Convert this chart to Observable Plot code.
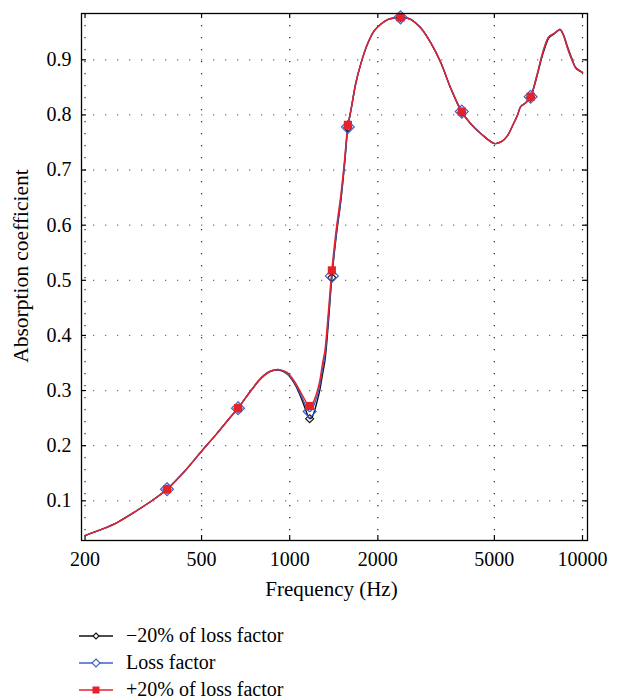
<!DOCTYPE html>
<html>
<head>
<meta charset="utf-8">
<script src="https://cdn.jsdelivr.net/npm/d3@7"></script>
<script src="https://cdn.jsdelivr.net/npm/@observablehq/plot@0.6"></script>
<style>
  body { margin: 0; background: #fff; font-family: "Liberation Serif", serif; }
  #wrap { position: relative; width: 618px; height: 699px; }
  #legend { position: absolute; left: 79px; top: 622px; }
  .row { display: flex; align-items: center; height: 27px; font-size: 20px; color: #000; }
  .row svg { margin-right: 12px; }
</style>
</head>
<body>
<div id="wrap"><div id="chart"></div><div id="legend"></div></div>
<script>
// ---- data ----
const freq = [200, 230, 260, 300, 340, 381, 440, 500, 560, 630, 666, 740, 800, 860, 920, 980, 1040, 1090, 1130, 1150, 1170, 1190, 1215, 1240, 1265, 1295, 1320, 1355, 1393, 1440, 1495, 1540, 1580, 1620, 1680, 1750, 1845, 1945, 2050, 2160, 2280, 2390, 2500, 2600, 2800, 3030, 3280, 3550, 3870, 4150, 4500, 5020, 5300, 5540, 5800, 6000, 6150, 6400, 6650, 6850, 7020, 7200, 7400, 7680, 8000, 8200, 8380, 8600, 8880, 9200, 9480, 9750, 10000];

const plus20 = [0.037, 0.049, 0.062, 0.082, 0.101, 0.121, 0.155, 0.190, 0.220, 0.253, 0.268, 0.301, 0.323, 0.335, 0.338, 0.333, 0.316, 0.297, 0.282, 0.275, 0.272, 0.274, 0.284, 0.298, 0.316, 0.350, 0.374, 0.442, 0.518, 0.590, 0.655, 0.720, 0.782, 0.810, 0.857, 0.893, 0.929, 0.953, 0.965, 0.973, 0.976, 0.977, 0.976, 0.973, 0.958, 0.931, 0.895, 0.848, 0.806, 0.784, 0.766, 0.748, 0.752, 0.762, 0.783, 0.800, 0.815, 0.822, 0.833, 0.855, 0.876, 0.900, 0.922, 0.942, 0.948, 0.952, 0.955, 0.945, 0.922, 0.900, 0.886, 0.881, 0.877];

const nominal = [0.037, 0.049, 0.062, 0.082, 0.101, 0.121, 0.155, 0.190, 0.220, 0.253, 0.268, 0.301, 0.323, 0.335, 0.338, 0.331, 0.314, 0.293, 0.274, 0.265, 0.262, 0.265, 0.276, 0.290, 0.308, 0.340, 0.365, 0.432, 0.508, 0.582, 0.648, 0.714, 0.778, 0.810, 0.857, 0.893, 0.929, 0.953, 0.965, 0.973, 0.976, 0.977, 0.976, 0.973, 0.958, 0.931, 0.895, 0.848, 0.806, 0.784, 0.766, 0.748, 0.752, 0.762, 0.783, 0.800, 0.815, 0.822, 0.833, 0.855, 0.876, 0.900, 0.922, 0.942, 0.948, 0.952, 0.955, 0.945, 0.922, 0.900, 0.886, 0.881, 0.877];

const minus20 = [0.037, 0.049, 0.062, 0.082, 0.101, 0.121, 0.155, 0.190, 0.220, 0.253, 0.268, 0.301, 0.323, 0.335, 0.337, 0.330, 0.312, 0.289, 0.267, 0.256, 0.249, 0.251, 0.263, 0.280, 0.299, 0.330, 0.355, 0.422, 0.505, 0.578, 0.644, 0.711, 0.777, 0.809, 0.856, 0.893, 0.929, 0.953, 0.965, 0.973, 0.976, 0.977, 0.976, 0.973, 0.958, 0.931, 0.895, 0.848, 0.805, 0.784, 0.766, 0.748, 0.752, 0.762, 0.783, 0.800, 0.815, 0.822, 0.832, 0.853, 0.874, 0.897, 0.918, 0.940, 0.947, 0.952, 0.955, 0.946, 0.924, 0.902, 0.885, 0.880, 0.877];

const markerFreqs = [381, 666, 1170, 1393, 1580, 2390, 3870, 6650];
const xTicks = [200, 500, 1000, 2000, 5000, 10000];
const yTicks = [0.1, 0.2, 0.3, 0.4, 0.5, 0.6, 0.7, 0.8, 0.9];
const seriesNames = ["\u221220% of loss factor", "Loss factor", "+20% of loss factor"];
const seriesColors = ["#111111", "#3d5fcc", "#e8202a"];

// ---- layout ----
const W = 618, H = 620, mL = 81, mR = 31, mT = 13, mB = 80;
const fw = W - mL - mR, fh = H - mT - mB;
const tickLen = 5;

const allSeries = [minus20, nominal, plus20];
const rows = allSeries.map((vals, s) => freq.map((f, i) => ({f, v: vals[i], s})));
const markerRows = rows.map(r => r.filter(d => markerFreqs.includes(d.f)));

const markStyles = [
  {symbol: "diamond2", r: 3.6, stroke: seriesColors[0], fill: "none", strokeWidth: 1.1},
  {symbol: "diamond2", r: 5.8, stroke: seriesColors[1], fill: "none", strokeWidth: 1.2},
  {symbol: "square", r: 4.6, fill: seriesColors[2], stroke: "none"}
];

const seriesMarks = [];
rows.forEach((r, s) => {
  seriesMarks.push(Plot.line(r, {x: "f", y: "v", stroke: seriesColors[s], strokeWidth: 1.4, curve: "catmull-rom"}));
});
markerRows.forEach((r, s) => {
  seriesMarks.push(Plot.dot(r, {x: "f", y: "v", ...markStyles[s]}));
});

const chart = Plot.plot({
  width: W, height: H,
  marginLeft: mL, marginRight: mR, marginTop: mT, marginBottom: mB,
  style: {fontFamily: '"Liberation Serif", serif', fontSize: "20px", color: "#000", background: "#fff"},
  x: {type: "log", domain: [194.5, 10400], axis: null},
  y: {domain: [0.028, 0.984], axis: null},
  marks: [
    Plot.gridX(xTicks, {stroke: "#333", strokeOpacity: 1, strokeWidth: 1.3, strokeDasharray: "1.3,10.7"}),
    Plot.gridY(yTicks, {stroke: "#777", strokeOpacity: 1, strokeWidth: 1.3, strokeDasharray: "1.3,10.7"}),
    // inward ticks on all four sides
    Plot.ruleX(xTicks, {x: d => d, insetTop: fh - tickLen, stroke: "#000", strokeWidth: 1.2}),
    Plot.ruleX(xTicks, {x: d => d, insetBottom: fh - tickLen, stroke: "#000", strokeWidth: 1.2}),
    Plot.ruleY(yTicks, {y: d => d, insetRight: fw - tickLen, stroke: "#000", strokeWidth: 1.2}),
    Plot.ruleY(yTicks, {y: d => d, insetLeft: fw - tickLen, stroke: "#000", strokeWidth: 1.2}),
    ...seriesMarks,
    Plot.frame({stroke: "#000", strokeWidth: 1.3}),
    // tick labels
    Plot.text(xTicks, {x: d => d, text: d => String(d), frameAnchor: "bottom", lineAnchor: "top", dy: 11, fontSize: 20, fill: "#000"}),
    Plot.axisY(yTicks, {tickSize: 0, tickPadding: 10, tickFormat: d3.format(".1f"), label: null, fontSize: 20}),
    // axis titles
    Plot.text(["Absorption coefficient"], {frameAnchor: "left", textAnchor: "middle", rotate: -90, dx: -60, dy: -11, fontSize: 21.5, fill: "#000"}),
    Plot.text(["Frequency (Hz)"], {frameAnchor: "bottom", textAnchor: "middle", dy: 55, dx: -3, fontSize: 21, fill: "#000"})
  ]
});
document.getElementById("chart").appendChild(chart);

// ---- legend ----
const legend = document.getElementById("legend");
seriesNames.forEach((name, s) => {
  const row = document.createElement("div");
  row.className = "row";
  let marker;
  if (s === 2) marker = `<rect x="13.5" y="9.5" width="7" height="7" fill="${seriesColors[s]}"/>`;
  else {
    const k = s === 0 ? 3 : 4;
    marker = `<path d="M17 ${13 - k}L${17 + k} 13L17 ${13 + k}L${17 - k} 13Z" fill="#fff" stroke="${seriesColors[s]}" stroke-width="1.1"/>`;
  }
  row.innerHTML = `<svg width="35" height="26"><line x1="0" x2="34" y1="13" y2="13" stroke="${seriesColors[s]}" stroke-width="1.6"/>${marker}</svg><span>${name}</span>`;
  legend.appendChild(row);
});
</script>
</body>
</html>
